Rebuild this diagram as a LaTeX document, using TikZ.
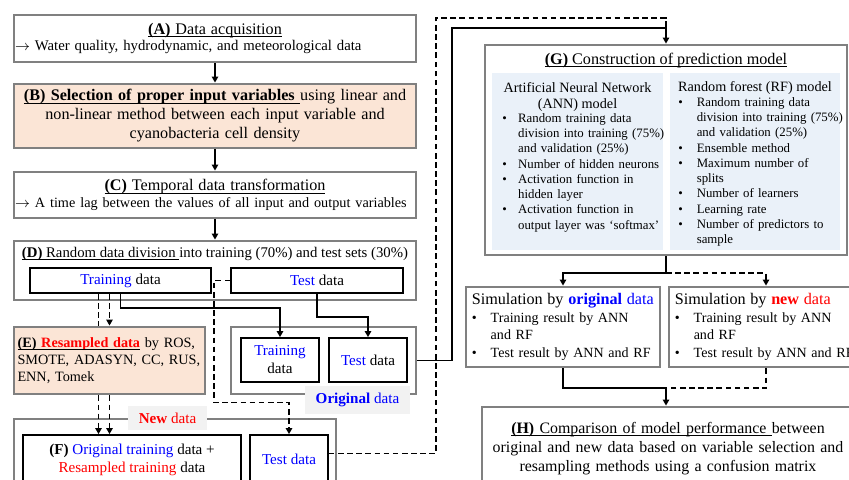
\documentclass[tikz,border=0pt]{standalone}
\usepackage{amsmath}
\usepackage{fontspec}
\setmainfont{Liberation Serif}
\usepackage{xcolor}
\usetikzlibrary{arrows.meta,positioning,calc}

\definecolor{bgray}{RGB}{128,128,128}
\definecolor{peach}{RGB}{251,229,214}
\definecolor{paleblue}{RGB}{234,241,249}
\definecolor{labgray}{RGB}{242,242,242}
\definecolor{tblue}{RGB}{0,0,255}
\definecolor{tred}{RGB}{255,0,0}

\newcommand{\ftitle}{\fontsize{9.2}{10.8}\selectfont}
\newcommand{\fbody}{\fontsize{8.4}{9.6}\selectfont}
\newcommand{\fsmall}{\fontsize{8.1}{9.6}\selectfont}
\newcommand{\fdata}{\fontsize{8.6}{10.2}\selectfont}
\newcommand{\fres}{\fontsize{8.1}{9.6}\selectfont}
\newcommand{\flist}{\fontsize{7.3}{8.7}\selectfont}
\newcommand{\fsim}{\fontsize{8}{10}\selectfont}
\newcommand{\uln}[1]{\underline{\smash[b]{#1}}}
\newcommand{\bul}[2][9pt]{\noindent\hangindent=#1\hangafter=1\makebox[#1][l]{\textbullet}#2\par}

\begin{document}
\begin{tikzpicture}[x=0.02cm,y=-0.02cm,
  >={Triangle[length=3.4pt,width=3.6pt]},
  gbox/.style={draw=bgray,line width=1.6pt,inner sep=2pt,align=center,font=\fbody},
  pbox/.style={gbox,fill=peach},
  kbox/.style={draw,line width=1pt,inner sep=1pt,align=center,font=\fdata},
  panel/.style={fill=paleblue,inner sep=0pt},
  tag/.style={fill=labgray,inner sep=0pt,font=\fdata},
  a/.style={->,line width=1.1pt},
  ln/.style={line width=1.1pt},
  dsh/.style={dash pattern=on 3.2pt off 2pt}]
  \useasboundingbox (0,0) rectangle (849,480);
  \clip (0,0) rectangle (849,480);

  % left column
  \node[gbox,minimum width=8.04cm,minimum height=0.94cm,text width=8cm,inner xsep=0.5pt,align=left] (A) at (215,38.5)
    {{\centering\ftitle\uln{\textbf{(A)} Data acquisition}\par}\fbody$\rightarrow$\ Water quality, hydrodynamic, and meteorological data};
  \node[pbox,minimum width=8.04cm,minimum height=1.28cm,text width=7.85cm,font=\ftitle] (B) at (215,116)
    {\uln{\textbf{(B) Selection of proper input variables }}using linear and\\non-linear method between each input variable and\\cyanobacteria cell density};
  \node[gbox,minimum width=8.04cm,minimum height=0.92cm,text width=8cm,inner xsep=0.5pt,align=left] (C) at (215,195)
    {{\centering\ftitle\uln{\textbf{(C)} Temporal data transformation}\par}\fsmall$\rightarrow$\ A time lag between the values of all input and output variables};
  \node[gbox,minimum width=8.04cm,minimum height=1.18cm] (D) at (215,270.5) {};
  \node[font=\fbody,inner sep=0pt] (Dtxt) at (215,254) {\uln{\textbf{(D)} Random data division }into training (70\%) and test sets (30\%)};
  \node[kbox,minimum width=3.62cm,minimum height=0.5cm] (Train) at (120.5,280.5) {\textcolor{tblue}{Training} data};
  \node[kbox,minimum width=3.44cm,minimum height=0.5cm] (Test) at (317,280.5) {\textcolor{tblue}{Test} data};
  \node[pbox,minimum width=3.82cm,minimum height=1.34cm,text width=3.68cm,align=left,font=\fres] (E) at (109.5,360.5)
    {\uln{\textbf{(E) \textcolor{tred}{Resampled data}}} by ROS,\\SMOTE, ADASYN, CC, RUS,\\ENN, Tomek};

  % original data group
  \node[gbox,minimum width=3.7cm,minimum height=1.34cm] (orig) at (323.5,360.5) {};
  \node[tag,minimum width=2.1cm,minimum height=0.56cm] (olab) at (357.5,400) {\textcolor{tblue}{\textbf{Original} data}};
  \node[kbox,minimum width=1.56cm,minimum height=0.88cm] (itr) at (280,360) {\textcolor{tblue}{Training}\\data};
  \node[kbox,minimum width=1.56cm,minimum height=0.88cm] (its) at (368,360) {\textcolor{tblue}{Test} data};

  % new data group
  \node[gbox,minimum width=6.44cm,minimum height=1.82cm] (new) at (175,464.5) {};
  \node[tag,minimum width=1.58cm,minimum height=0.48cm] (nlab) at (167.5,418) {\textcolor{tred}{\textbf{New} data}};
  \node[kbox,minimum width=4.36cm,minimum height=0.98cm] (F) at (132,459.5)
    {\textbf{(F)} \textcolor{tblue}{Original training} data +\\\textcolor{tred}{Resampled training} data};
  \node[kbox,minimum width=1.56cm,minimum height=0.98cm] (ntest) at (289,459.5) {\textcolor{tblue}{Test data}};

  % right column
  \node[gbox,minimum width=7.24cm,minimum height=4.2cm] (G) at (666,150) {};
  \node[font=\ftitle,inner sep=0pt] (Gtxt) at (666,60) {\uln{\textbf{(G)} Construction of prediction model}};
  \node[panel,minimum width=3.42cm,minimum height=3.54cm] (ann) at (577.5,161.5) {};
  \node[panel,minimum width=3.4cm,minimum height=3.54cm] (rf) at (755,161.5) {};
  \node[font=\fres,align=center,inner sep=0pt] (anntl) at (577.5,97) {Artificial Neural Network\\(ANN) model};
  \node[font=\flist,text width=3.4cm,align=left,inner sep=0pt,anchor=north west] (annls) at (502,113)
    {\bul{Random training data\newline division into training (75\%)\newline and validation (25\%)}%
     \bul{Number of hidden neurons}%
     \bul{Activation function in\newline hidden layer}%
     \bul{Activation function in\newline output layer was `softmax'}};
  \node[font=\fres,inner sep=0pt] (rftl) at (755,88) {Random forest (RF) model};
  \node[font=\flist,text width=3.4cm,align=left,inner sep=0pt,anchor=north west] (rfls) at (678,97)
    {\bul[10.5pt]{Random training data\newline division into training (75\%)\newline and validation (25\%)}%
     \bul[10.5pt]{Ensemble method}%
     \bul[10.5pt]{Maximum number of\newline splits}%
     \bul[10.5pt]{Number of learners}%
     \bul[10.5pt]{Learning rate}%
     \bul[10.5pt]{Number of predictors to\newline sample}};

  \node[gbox,minimum width=3.88cm,minimum height=1.6cm,text width=3.65cm,align=left,font=\fsim,inner xsep=3pt] (so) at (563,327)
    {{\ftitle Simulation by \textcolor{tblue}{\textbf{original} data}\par}%
     \bul[10.8pt]{Training result by ANN\newline and RF}%
     \bul[10.8pt]{Test result by ANN and RF}};
  \node[gbox,minimum width=3.88cm,minimum height=1.6cm,text width=3.65cm,align=left,font=\fsim,inner xsep=3pt] (sn) at (766,327)
    {{\ftitle Simulation by \textcolor{tred}{\textbf{new} data}\par}%
     \bul[10.8pt]{Training result by ANN\newline and RF}%
     \bul[10.8pt]{Test result by ANN and RF}};
  \node[gbox,minimum width=7.4cm,minimum height=1.66cm,text width=7.3cm,font=\fontsize{9.05}{10.8}\selectfont] (H) at (668,448.5)
    {\uln{\textbf{(H)} Comparison of model performance }between\\original and new data based on variable selection and\\resampling methods using a confusion matrix};

  % connectors
  \draw[a] (A) -- (B);
  \draw[a] (B) -- (C);
  \draw[a] (C) -- (D);
  \coordinate (t1) at ($(Train.south)+(-22,0)$);
  \coordinate (t2) at ($(Train.south)+(-11,0)$);
  \draw[ln,dsh] (t1) -- (t1 |- E.north);
  \draw[a,dsh] (t2) -- (t2 |- E.north);
  \draw[a,dsh] (t1 |- E.south) -- (t1 |- F.north);
  \draw[a,dsh] (t2 |- E.south) -- (t2 |- F.north);
  \draw[a] (Train.south) -- ++(0,14) -| (itr.north);
  \draw[a] (Test.south) -- ++(0,23) -| (its.north);
  \draw[a,dsh] (Test.west) -- ++(-16,0) -- ++(0,122) -| (ntest.north);

  \coordinate (gin) at ($(G.north)+(0,-16)$);
  \coordinate (gtop) at ($(G.north)+(0,-26)$);
  \draw[a] (orig.east) -- ++(35,0) |- (gin) -- (G.north);
  \draw[ln,dsh] ($(ntest.east)+(0,-6)$) -- ++(107,0) |- (gtop) -- (gin);

  \coordinate (gsplit) at ($(G.south)+(0,17)$);
  \draw[a] (G.south) -- (gsplit) -| (so.north);
  \draw[a,dsh] (gsplit) -| (sn.north);
  \coordinate (hin) at ($(so.south -| G.south)+(0,20)$);
  \draw[ln] (so.south) |- (hin);
  \draw[ln,dsh] (sn.south) |- (hin);
  \draw[a] (hin) -- (hin |- H.north);
\end{tikzpicture}
\end{document}
